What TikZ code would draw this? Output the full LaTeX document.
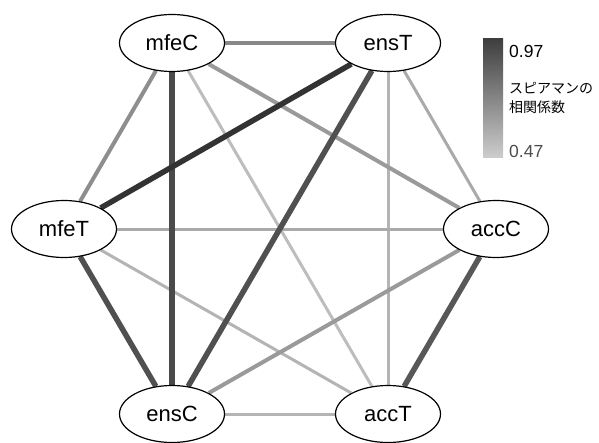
\documentclass[tikz,border=0pt]{standalone}
\usepackage{fontspec}
\setmainfont{Liberation Sans}
\newfontfamily\jpfont{Noto Sans CJK JP}
\usetikzlibrary{shapes.geometric,backgrounds}
\begin{document}
\begin{tikzpicture}[x=1pt,y=-1pt,
  vtx/.style={ellipse,draw=black,line width=1.2pt,fill=white,minimum width=105pt,minimum height=57pt,inner sep=0pt,font=\fontsize{22}{24}\selectfont},
  lab/.style={anchor=west,inner sep=0pt},
  eThick/.style={line width=5.5pt},
  eMed/.style={line width=4pt},
  eThin/.style={line width=3pt}]
\useasboundingbox (0,0) rectangle (599,442);
\definecolor{c1}{HTML}{333333}
\definecolor{c2}{HTML}{4A4A4A}
\definecolor{c3}{HTML}{505050}
\definecolor{c4}{HTML}{585858}
\definecolor{c5}{HTML}{888888}
\definecolor{c6}{HTML}{8E8E8E}
\definecolor{c7}{HTML}{9A9A9A}
\definecolor{c8}{HTML}{AAAAAA}
\definecolor{c9}{HTML}{B4B4B4}
\definecolor{c10}{HTML}{BDBDBD}
% nodes
\node[vtx] (mfeC) at (172,43) {mfeC};
\node[vtx] (ensT) at (388,43) {ensT};
\node[vtx] (mfeT) at (64,229) {mfeT};
\node[vtx] (accC) at (496,229) {accC};
\node[vtx] (ensC) at (172,414) {ensC};
\node[vtx] (accT) at (388,414) {accT};
% edges
\begin{pgfonlayer}{background}
\draw[eThin,c10] (mfeC) -- (accT);
\draw[eThin,c9] (mfeT) -- (accT);
\draw[eThin,c9] (ensC) -- (accT);
\draw[eThin,c9] (ensT) -- (accT);
\draw[eThin,c8] (ensT) -- (accC);
\draw[eThin,c8] (mfeT) -- (accC);
\draw[eMed,c7] (mfeC) -- (accC);
\draw[eMed,c7] (accC) -- (ensC);
\draw[eMed,c6] (mfeC) -- (mfeT);
\draw[eMed,c5] (mfeC) -- (ensT);
\draw[eThick,c4] (accC) -- (accT);
\draw[eThick,c3] (mfeT) -- (ensC);
\draw[eThick,c3] (ensT) -- (ensC);
\draw[eThick,c2] (mfeC) -- (ensC);
\draw[eThick,c1] (ensT) -- (mfeT);
\end{pgfonlayer}
% colour bar
\shade[top color=c1!95!white,bottom color=black!20] (483,38) rectangle (503,157);
\node[lab,font=\fontsize{17.5}{20}\selectfont] (hi) at (509,51) {0.97};
\node[lab,font=\fontsize{17.5}{20}\selectfont,text=black!70] (lo) at (509,151) {0.47};
\node[lab,font=\jpfont\fontsize{14}{16}\selectfont] (t1) at (509,88) {スピアマンの};
\node[lab,font=\jpfont\fontsize{14}{16}\selectfont] (t2) at (509,107) {相関係数};
\end{tikzpicture}
\end{document}
